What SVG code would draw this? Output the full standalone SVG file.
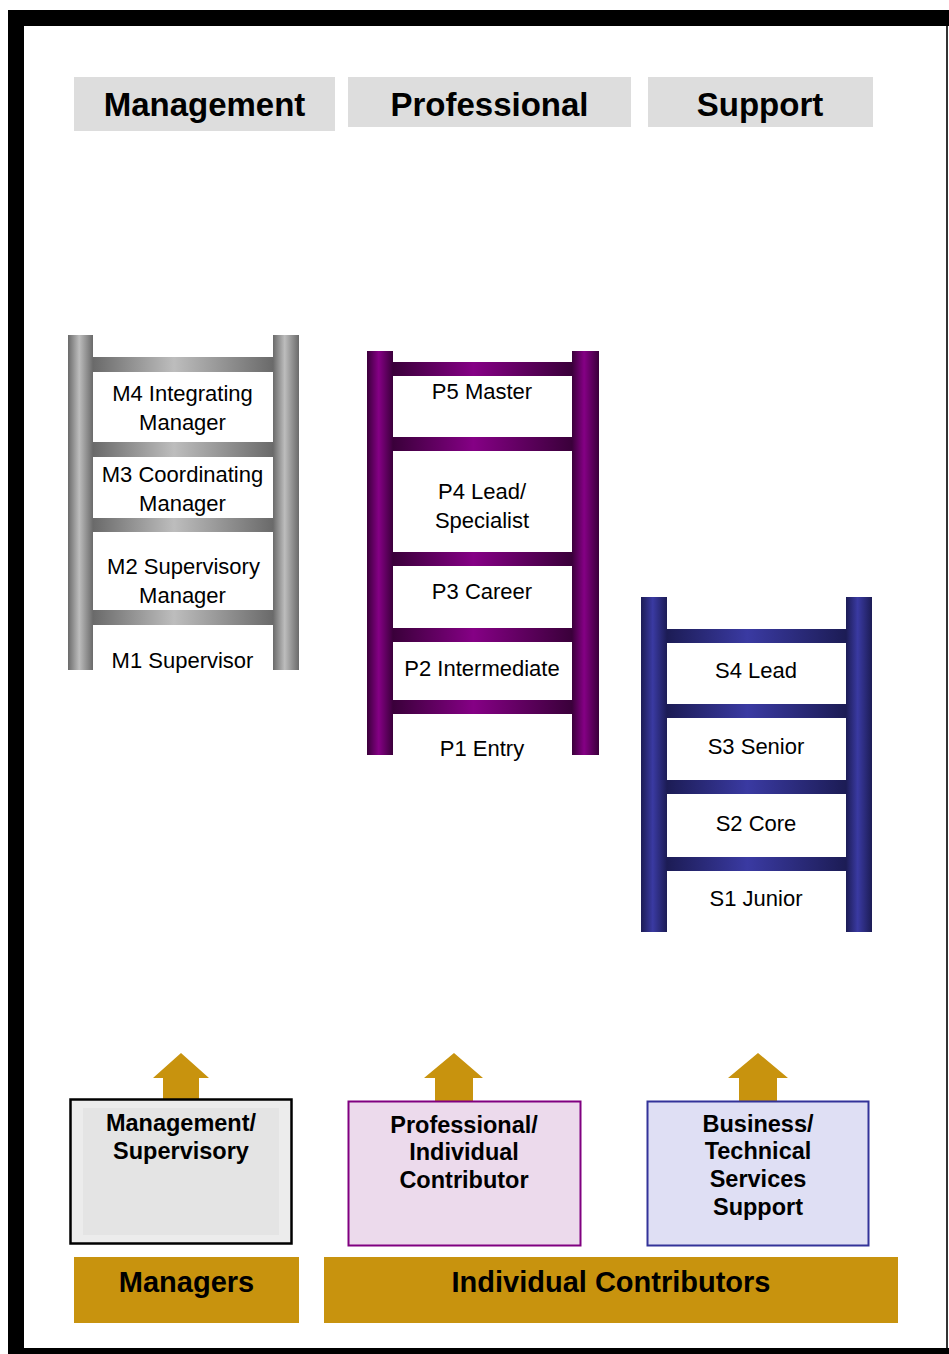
<svg xmlns="http://www.w3.org/2000/svg" width="949" height="1354" viewBox="0 0 949 1354">
<defs>
<linearGradient id="gGrey" x1="0" y1="0" x2="1" y2="0"><stop offset="0" stop-color="#6a6a6a"/><stop offset="0.45" stop-color="#bdbdbd"/><stop offset="1" stop-color="#6a6a6a"/></linearGradient>
<linearGradient id="gPurple" x1="0" y1="0" x2="1" y2="0"><stop offset="0" stop-color="#3a003a"/><stop offset="0.45" stop-color="#850085"/><stop offset="1" stop-color="#3a003a"/></linearGradient>
<linearGradient id="gBlue" x1="0" y1="0" x2="1" y2="0"><stop offset="0" stop-color="#1c1c55"/><stop offset="0.45" stop-color="#3a3aa2"/><stop offset="1" stop-color="#1c1c55"/></linearGradient>
<style>
.hdr{fill:#dddddd}
.htx{font-family:"Liberation Sans",Arial,sans-serif;font-weight:bold;font-size:33px;fill:#000;text-anchor:middle}
.lt{font-family:"Liberation Sans",Arial,sans-serif;font-size:22px;fill:#000;text-anchor:middle}
.bt{font-family:"Liberation Sans",Arial,sans-serif;font-weight:bold;font-size:23.5px;fill:#000;text-anchor:middle}
.gt{font-family:"Liberation Sans",Arial,sans-serif;font-weight:bold;font-size:29px;fill:#000;text-anchor:middle}
.gold{fill:#c8930e}
.grey{fill:url(#gGrey)}
.purple{fill:url(#gPurple)}
.blue{fill:url(#gBlue)}
</style>
</defs>
<rect x="0" y="0" width="949" height="1354" fill="#ffffff"/>
<g id="frame">
<rect x="8" y="10" width="941" height="16" fill="#000"/>
<rect x="8" y="10" width="16" height="1344" fill="#000"/>
<rect x="8" y="1348" width="941" height="6" fill="#000"/>
<rect x="946" y="26" width="2" height="1322" fill="#333"/>
</g>
<g id="hdr-management"><rect class="hdr" x="74" y="77" width="261" height="54"/><text class="htx" x="204.5" y="116">Management</text></g>
<g id="hdr-professional"><rect class="hdr" x="348" y="77" width="283" height="50"/><text class="htx" x="489.5" y="116">Professional</text></g>
<g id="hdr-support"><rect class="hdr" x="648" y="77" width="225" height="50"/><text class="htx" x="760" y="116">Support</text></g>

<g id="ladder-management">
<rect class="grey" x="93" y="357" width="180" height="15"/>
<rect class="grey" x="93" y="442" width="180" height="15"/>
<rect class="grey" x="93" y="518" width="180" height="14"/>
<rect class="grey" x="93" y="610" width="180" height="15"/>
<rect class="grey" x="68" y="335" width="25" height="335"/>
<rect class="grey" x="273" y="335" width="26" height="335"/>
<text class="lt" x="182.5" y="401">M4 Integrating</text>
<text class="lt" x="182.5" y="430">Manager</text>
<text class="lt" x="182.5" y="482">M3 Coordinating</text>
<text class="lt" x="182.5" y="511">Manager</text>
<text class="lt" x="183.5" y="574">M2 Supervisory</text>
<text class="lt" x="182.5" y="603">Manager</text>
<text class="lt" x="182.5" y="668">M1 Supervisor</text>
</g>

<g id="ladder-professional">
<rect class="purple" x="393" y="362" width="179" height="14"/>
<rect class="purple" x="393" y="437" width="179" height="14"/>
<rect class="purple" x="393" y="552" width="179" height="14"/>
<rect class="purple" x="393" y="628" width="179" height="14"/>
<rect class="purple" x="393" y="700" width="179" height="14"/>
<rect class="purple" x="367" y="351" width="26" height="404"/>
<rect class="purple" x="572" y="351" width="27" height="404"/>
<text class="lt" x="482" y="399">P5 Master</text>
<text class="lt" x="482" y="499">P4 Lead/</text>
<text class="lt" x="482" y="528">Specialist</text>
<text class="lt" x="482" y="599">P3 Career</text>
<text class="lt" x="482" y="676">P2 Intermediate</text>
<text class="lt" x="482" y="756">P1 Entry</text>
</g>

<g id="ladder-support">
<rect class="blue" x="667" y="629" width="179" height="14"/>
<rect class="blue" x="667" y="704" width="179" height="14"/>
<rect class="blue" x="667" y="780" width="179" height="14"/>
<rect class="blue" x="667" y="857" width="179" height="14"/>
<rect class="blue" x="641" y="597" width="26" height="335"/>
<rect class="blue" x="846" y="597" width="26" height="335"/>
<text class="lt" x="756" y="678">S4 Lead</text>
<text class="lt" x="756" y="754">S3 Senior</text>
<text class="lt" x="756" y="831">S2 Core</text>
<text class="lt" x="756" y="906">S1 Junior</text>
</g>

<g id="connectors">
<polygon class="gold" points="181,1053 209,1078 199,1078 199,1099 163,1099 163,1078 153,1078"/>
<polygon class="gold" points="454,1053 483,1078 473,1078 473,1101 435,1101 435,1078 424,1078"/>
<polygon class="gold" points="758,1053 788,1078 777,1078 777,1101 739,1101 739,1078 728,1078"/>
</g>

<g id="box-management">
<rect x="70.5" y="1099.5" width="221" height="144" fill="#ececec" stroke="#000" stroke-width="2.5"/>
<rect x="83" y="1108" width="196" height="127" fill="#e4e4e4"/>
<text class="bt" x="181" y="1131">Management/</text>
<text class="bt" x="181" y="1159">Supervisory</text>
</g>
<g id="box-professional">
<rect x="348.5" y="1101.5" width="232" height="144" fill="#ecdaec" stroke="#800080" stroke-width="2"/>
<text class="bt" x="464" y="1133">Professional/</text>
<text class="bt" x="464" y="1160">Individual</text>
<text class="bt" x="464" y="1188">Contributor</text>
</g>
<g id="box-support">
<rect x="647.5" y="1101.5" width="221" height="144" fill="#dfdff4" stroke="#333399" stroke-width="2"/>
<text class="bt" x="758" y="1132">Business/</text>
<text class="bt" x="758" y="1159">Technical</text>
<text class="bt" x="758" y="1187">Services</text>
<text class="bt" x="758" y="1215">Support</text>
</g>

<g id="bar-managers"><rect class="gold" x="74" y="1257" width="225" height="66"/><text class="gt" x="186.5" y="1292">Managers</text></g>
<g id="bar-individual"><rect class="gold" x="324" y="1257" width="574" height="66"/><text class="gt" x="611" y="1292">Individual Contributors</text></g>
</svg>
